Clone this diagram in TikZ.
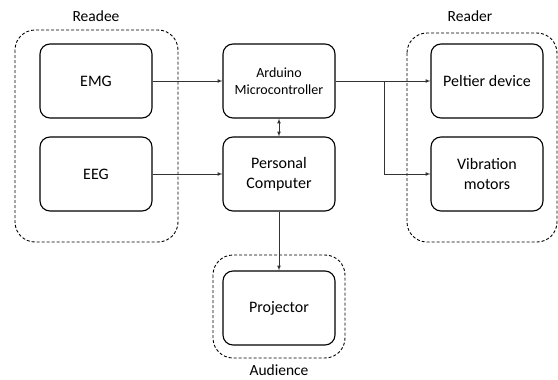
\documentclass[tikz,border=0pt]{standalone}
\usepackage{fontspec}
\setmainfont{Carlito}
\usetikzlibrary{arrows}

\begin{document}
\begin{tikzpicture}
        [
          x=1pt, y=-1pt,
          block/.style={draw, line width=1.1pt, rounded corners=10pt, minimum width=112pt,
            minimum height=74pt, align=center, font=\fontsize{16}{20}\selectfont},
          small/.style={font=\fontsize{14}{17.5}\selectfont},
          group/.style={draw, line width=0.9pt, dash pattern=on 3pt off 2pt, rounded corners=20pt},
          label/.style={font=\fontsize{15.5}{18}\selectfont},
          link/.style={->, >=latex, line width=0.7pt, black!80}
        ]
        \useasboundingbox (0,0) rectangle (558,380);
        % readee
        \draw [group] (15,30) rectangle (178,242);
        \node [label] (readee) at (96,16) {Readee};
        \node [block] (emg) at (96,81) {EMG};
        \node [block] (eeg) at (96,174) {EEG};
        % middle column
        \node [block, small] (arduino) at (279,81) {Arduino\\Microcontroller};
        \node [block] (pc) at (279,174) {Personal\\Computer};
        % reader
        \draw [group] (407,33) rectangle (557,242);
        \node [label] (reader) at (470,16) {Reader};
        \node [block] (peltier) at (487,81) {Peltier device};
        \node [block] (vib) at (487,174) {Vibration\\motors};
        % audience
        \draw [group] (213,255) rectangle (345,358);
        \node [label] (audience) at (279,370) {Audience};
        \node [block] (proj) at (279,308) {Projector};
        % edges
        \draw [link] (emg) -- (arduino);
        \draw [link] (eeg) -- (pc);
        \draw [link, <->] (arduino) -- (pc);
        \draw [link] (arduino) -- (peltier);
        \coordinate (split) at (384,81);
        \draw [link] (split) |- (vib.west);
        \draw [link] (pc) -- (proj);
\end{tikzpicture}
\end{document}
